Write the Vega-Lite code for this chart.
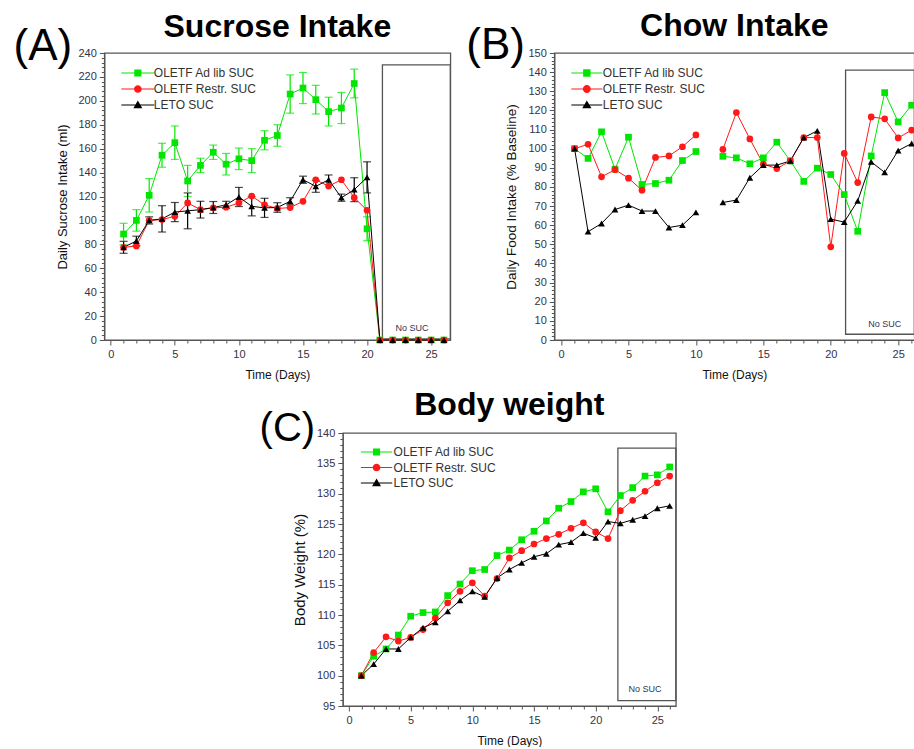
{
"$schema": "https://vega.github.io/schema/vega-lite/v6.json",
"padding": {"left": 12, "top": 9, "right": 0, "bottom": 0},
"config": {
 "view": {"stroke": "#555555", "strokeWidth": 1.3},
 "axis": {"labelFont": "Liberation Sans", "labelFontSize": 11, "labelColor": "#333344", "titleFont": "Liberation Sans", "titleFontWeight": "normal", "titleColor": "#111111", "domainColor": "#555555", "tickColor": "#555555", "grid": false, "labelPadding": 3, "labelFlush": false, "labelOverlap": false},
 "title": {"font": "Liberation Sans", "fontSize": 32, "fontWeight": "bold", "color": "#000000", "anchor": "middle"},
 "legend": {"labelFont": "Liberation Sans", "labelFontSize": 12, "labelColor": "#333333", "symbolOpacity": 1}
},
"datasets": {
 "sucrose": [
  {"day":1,"group":"OLETF Ad lib SUC","value":88.6,"err":9},{"day":2,"group":"OLETF Ad lib SUC","value":100,"err":9},{"day":3,"group":"OLETF Ad lib SUC","value":121,"err":14},{"day":4,"group":"OLETF Ad lib SUC","value":154.5,"err":10},{"day":5,"group":"OLETF Ad lib SUC","value":165,"err":14},{"day":6,"group":"OLETF Ad lib SUC","value":133,"err":13},{"day":7,"group":"OLETF Ad lib SUC","value":146,"err":6},{"day":8,"group":"OLETF Ad lib SUC","value":157,"err":6},{"day":9,"group":"OLETF Ad lib SUC","value":147,"err":9},{"day":10,"group":"OLETF Ad lib SUC","value":151.5,"err":9},{"day":11,"group":"OLETF Ad lib SUC","value":150,"err":10},{"day":12,"group":"OLETF Ad lib SUC","value":167,"err":8},{"day":13,"group":"OLETF Ad lib SUC","value":171,"err":9},{"day":14,"group":"OLETF Ad lib SUC","value":205.7,"err":16},{"day":15,"group":"OLETF Ad lib SUC","value":210.7,"err":13},{"day":16,"group":"OLETF Ad lib SUC","value":201,"err":12},{"day":17,"group":"OLETF Ad lib SUC","value":191,"err":12},{"day":18,"group":"OLETF Ad lib SUC","value":194,"err":13},{"day":19,"group":"OLETF Ad lib SUC","value":214.5,"err":12},{"day":20,"group":"OLETF Ad lib SUC","value":93,"err":10},{"day":21,"group":"OLETF Ad lib SUC","value":0,"err":0},{"day":22,"group":"OLETF Ad lib SUC","value":0,"err":0},{"day":23,"group":"OLETF Ad lib SUC","value":0,"err":0},{"day":24,"group":"OLETF Ad lib SUC","value":0,"err":0},{"day":25,"group":"OLETF Ad lib SUC","value":0,"err":0},{"day":26,"group":"OLETF Ad lib SUC","value":0,"err":0},
  {"day":1,"group":"OLETF Restr. SUC","value":77.5},{"day":2,"group":"OLETF Restr. SUC","value":78.6},{"day":3,"group":"OLETF Restr. SUC","value":100},{"day":4,"group":"OLETF Restr. SUC","value":100.7},{"day":5,"group":"OLETF Restr. SUC","value":103.5},{"day":6,"group":"OLETF Restr. SUC","value":114.6},{"day":7,"group":"OLETF Restr. SUC","value":109},{"day":8,"group":"OLETF Restr. SUC","value":110.5},{"day":9,"group":"OLETF Restr. SUC","value":111},{"day":10,"group":"OLETF Restr. SUC","value":114.6},{"day":11,"group":"OLETF Restr. SUC","value":120.4},{"day":12,"group":"OLETF Restr. SUC","value":113},{"day":13,"group":"OLETF Restr. SUC","value":110},{"day":14,"group":"OLETF Restr. SUC","value":110.7},{"day":15,"group":"OLETF Restr. SUC","value":116},{"day":16,"group":"OLETF Restr. SUC","value":134},{"day":17,"group":"OLETF Restr. SUC","value":128.7},{"day":18,"group":"OLETF Restr. SUC","value":134},{"day":19,"group":"OLETF Restr. SUC","value":119},{"day":20,"group":"OLETF Restr. SUC","value":108.5},{"day":21,"group":"OLETF Restr. SUC","value":0},{"day":22,"group":"OLETF Restr. SUC","value":0},{"day":23,"group":"OLETF Restr. SUC","value":0},{"day":24,"group":"OLETF Restr. SUC","value":0},{"day":25,"group":"OLETF Restr. SUC","value":0},{"day":26,"group":"OLETF Restr. SUC","value":0},
  {"day":1,"group":"LETO SUC","value":77.5,"err":5},{"day":2,"group":"LETO SUC","value":82.8,"err":4},{"day":3,"group":"LETO SUC","value":100,"err":3},{"day":4,"group":"LETO SUC","value":101.3,"err":11},{"day":5,"group":"LETO SUC","value":107,"err":8},{"day":6,"group":"LETO SUC","value":108,"err":15},{"day":7,"group":"LETO SUC","value":109,"err":7},{"day":8,"group":"LETO SUC","value":110.8,"err":5},{"day":9,"group":"LETO SUC","value":113,"err":3},{"day":10,"group":"LETO SUC","value":119.6,"err":8},{"day":11,"group":"LETO SUC","value":111.8,"err":8},{"day":12,"group":"LETO SUC","value":110.5,"err":8},{"day":13,"group":"LETO SUC","value":110.8,"err":4},{"day":14,"group":"LETO SUC","value":116,"err":3},{"day":15,"group":"LETO SUC","value":134,"err":3},{"day":16,"group":"LETO SUC","value":128.5,"err":5},{"day":17,"group":"LETO SUC","value":134,"err":4},{"day":18,"group":"LETO SUC","value":119,"err":3},{"day":19,"group":"LETO SUC","value":125.7,"err":10},{"day":20,"group":"LETO SUC","value":136,"err":13},{"day":21,"group":"LETO SUC","value":0,"err":0},{"day":22,"group":"LETO SUC","value":0,"err":0},{"day":23,"group":"LETO SUC","value":0,"err":0},{"day":24,"group":"LETO SUC","value":0,"err":0},{"day":25,"group":"LETO SUC","value":0,"err":0},{"day":26,"group":"LETO SUC","value":0,"err":0}
 ],
 "chow": [
  {"day":1,"seg":"a","group":"OLETF Ad lib SUC","value":100},{"day":2,"seg":"a","group":"OLETF Ad lib SUC","value":94.9},{"day":3,"seg":"a","group":"OLETF Ad lib SUC","value":108.8},{"day":4,"seg":"a","group":"OLETF Ad lib SUC","value":89.3},{"day":5,"seg":"a","group":"OLETF Ad lib SUC","value":106},{"day":6,"seg":"a","group":"OLETF Ad lib SUC","value":81.3},{"day":7,"seg":"a","group":"OLETF Ad lib SUC","value":81.8},{"day":8,"seg":"a","group":"OLETF Ad lib SUC","value":83.5},{"day":9,"seg":"a","group":"OLETF Ad lib SUC","value":93.8},{"day":10,"seg":"a","group":"OLETF Ad lib SUC","value":98.5},{"day":12,"seg":"b","group":"OLETF Ad lib SUC","value":96},{"day":13,"seg":"b","group":"OLETF Ad lib SUC","value":95.2},{"day":14,"seg":"b","group":"OLETF Ad lib SUC","value":92.1},{"day":15,"seg":"b","group":"OLETF Ad lib SUC","value":95.2},{"day":16,"seg":"b","group":"OLETF Ad lib SUC","value":103.4},{"day":17,"seg":"b","group":"OLETF Ad lib SUC","value":93.6},{"day":18,"seg":"b","group":"OLETF Ad lib SUC","value":82.9},{"day":19,"seg":"b","group":"OLETF Ad lib SUC","value":89.8},{"day":20,"seg":"b","group":"OLETF Ad lib SUC","value":86.5},{"day":21,"seg":"b","group":"OLETF Ad lib SUC","value":76},{"day":22,"seg":"b","group":"OLETF Ad lib SUC","value":56.8},{"day":23,"seg":"b","group":"OLETF Ad lib SUC","value":96.2},{"day":24,"seg":"b","group":"OLETF Ad lib SUC","value":129.3},{"day":25,"seg":"b","group":"OLETF Ad lib SUC","value":114},{"day":26,"seg":"b","group":"OLETF Ad lib SUC","value":122.7},
  {"day":1,"seg":"a","group":"OLETF Restr. SUC","value":100},{"day":2,"seg":"a","group":"OLETF Restr. SUC","value":102.3},{"day":3,"seg":"a","group":"OLETF Restr. SUC","value":85.3},{"day":4,"seg":"a","group":"OLETF Restr. SUC","value":89},{"day":5,"seg":"a","group":"OLETF Restr. SUC","value":84.6},{"day":6,"seg":"a","group":"OLETF Restr. SUC","value":78.3},{"day":7,"seg":"a","group":"OLETF Restr. SUC","value":95.4},{"day":8,"seg":"a","group":"OLETF Restr. SUC","value":96.2},{"day":9,"seg":"a","group":"OLETF Restr. SUC","value":101},{"day":10,"seg":"a","group":"OLETF Restr. SUC","value":107.2},{"day":12,"seg":"b","group":"OLETF Restr. SUC","value":99.6},{"day":13,"seg":"b","group":"OLETF Restr. SUC","value":118.9},{"day":14,"seg":"b","group":"OLETF Restr. SUC","value":105.1},{"day":15,"seg":"b","group":"OLETF Restr. SUC","value":91.9},{"day":16,"seg":"b","group":"OLETF Restr. SUC","value":89.6},{"day":17,"seg":"b","group":"OLETF Restr. SUC","value":93.6},{"day":18,"seg":"b","group":"OLETF Restr. SUC","value":105.8},{"day":19,"seg":"b","group":"OLETF Restr. SUC","value":105.8},{"day":20,"seg":"b","group":"OLETF Restr. SUC","value":48.7},{"day":21,"seg":"b","group":"OLETF Restr. SUC","value":97.5},{"day":22,"seg":"b","group":"OLETF Restr. SUC","value":82.3},{"day":23,"seg":"b","group":"OLETF Restr. SUC","value":116.6},{"day":24,"seg":"b","group":"OLETF Restr. SUC","value":115.6},{"day":25,"seg":"b","group":"OLETF Restr. SUC","value":105.6},{"day":26,"seg":"b","group":"OLETF Restr. SUC","value":109.7},
  {"day":1,"seg":"a","group":"LETO SUC","value":100},{"day":2,"seg":"a","group":"LETO SUC","value":56.6},{"day":3,"seg":"a","group":"LETO SUC","value":60.9},{"day":4,"seg":"a","group":"LETO SUC","value":68.2},{"day":5,"seg":"a","group":"LETO SUC","value":70.5},{"day":6,"seg":"a","group":"LETO SUC","value":67.4},{"day":7,"seg":"a","group":"LETO SUC","value":67.4},{"day":8,"seg":"a","group":"LETO SUC","value":58.8},{"day":9,"seg":"a","group":"LETO SUC","value":60},{"day":10,"seg":"a","group":"LETO SUC","value":66.7},{"day":12,"seg":"b","group":"LETO SUC","value":71.9},{"day":13,"seg":"b","group":"LETO SUC","value":73.1},{"day":14,"seg":"b","group":"LETO SUC","value":84.8},{"day":15,"seg":"b","group":"LETO SUC","value":91.4},{"day":16,"seg":"b","group":"LETO SUC","value":91.4},{"day":17,"seg":"b","group":"LETO SUC","value":93.6},{"day":18,"seg":"b","group":"LETO SUC","value":105.8},{"day":19,"seg":"b","group":"LETO SUC","value":109.3},{"day":20,"seg":"b","group":"LETO SUC","value":63.2},{"day":21,"seg":"b","group":"LETO SUC","value":61.6},{"day":22,"seg":"b","group":"LETO SUC","value":72.7},{"day":23,"seg":"b","group":"LETO SUC","value":93.1},{"day":24,"seg":"b","group":"LETO SUC","value":87.6},{"day":25,"seg":"b","group":"LETO SUC","value":99},{"day":26,"seg":"b","group":"LETO SUC","value":102.7}
 ],
 "bw": [
  {"day":1,"group":"OLETF Ad lib SUC","value":100},{"day":2,"group":"OLETF Ad lib SUC","value":103.2},{"day":3,"group":"OLETF Ad lib SUC","value":104.4},{"day":4,"group":"OLETF Ad lib SUC","value":106.7},{"day":5,"group":"OLETF Ad lib SUC","value":109.8},{"day":6,"group":"OLETF Ad lib SUC","value":110.4},{"day":7,"group":"OLETF Ad lib SUC","value":110.5},{"day":8,"group":"OLETF Ad lib SUC","value":113.2},{"day":9,"group":"OLETF Ad lib SUC","value":115.1},{"day":10,"group":"OLETF Ad lib SUC","value":117.3},{"day":11,"group":"OLETF Ad lib SUC","value":117.5},{"day":12,"group":"OLETF Ad lib SUC","value":119.8},{"day":13,"group":"OLETF Ad lib SUC","value":120.7},{"day":14,"group":"OLETF Ad lib SUC","value":122.4},{"day":15,"group":"OLETF Ad lib SUC","value":123.8},{"day":16,"group":"OLETF Ad lib SUC","value":125.5},{"day":17,"group":"OLETF Ad lib SUC","value":127.6},{"day":18,"group":"OLETF Ad lib SUC","value":128.7},{"day":19,"group":"OLETF Ad lib SUC","value":130.3},{"day":20,"group":"OLETF Ad lib SUC","value":130.8},{"day":21,"group":"OLETF Ad lib SUC","value":127},{"day":22,"group":"OLETF Ad lib SUC","value":129.7},{"day":23,"group":"OLETF Ad lib SUC","value":131},{"day":24,"group":"OLETF Ad lib SUC","value":132.9},{"day":25,"group":"OLETF Ad lib SUC","value":133.1},{"day":26,"group":"OLETF Ad lib SUC","value":134.4},
  {"day":1,"group":"OLETF Restr. SUC","value":100},{"day":2,"group":"OLETF Restr. SUC","value":103.8},{"day":3,"group":"OLETF Restr. SUC","value":106.4},{"day":4,"group":"OLETF Restr. SUC","value":105.7},{"day":5,"group":"OLETF Restr. SUC","value":106.3},{"day":6,"group":"OLETF Restr. SUC","value":107.6},{"day":7,"group":"OLETF Restr. SUC","value":109.5},{"day":8,"group":"OLETF Restr. SUC","value":112},{"day":9,"group":"OLETF Restr. SUC","value":113.9},{"day":10,"group":"OLETF Restr. SUC","value":115.3},{"day":11,"group":"OLETF Restr. SUC","value":113.1},{"day":12,"group":"OLETF Restr. SUC","value":116},{"day":13,"group":"OLETF Restr. SUC","value":119.4},{"day":14,"group":"OLETF Restr. SUC","value":120.6},{"day":15,"group":"OLETF Restr. SUC","value":121.7},{"day":16,"group":"OLETF Restr. SUC","value":122.6},{"day":17,"group":"OLETF Restr. SUC","value":123.3},{"day":18,"group":"OLETF Restr. SUC","value":124.3},{"day":19,"group":"OLETF Restr. SUC","value":125.2},{"day":20,"group":"OLETF Restr. SUC","value":123.7},{"day":21,"group":"OLETF Restr. SUC","value":122.6},{"day":22,"group":"OLETF Restr. SUC","value":127.2},{"day":23,"group":"OLETF Restr. SUC","value":128.9},{"day":24,"group":"OLETF Restr. SUC","value":130.4},{"day":25,"group":"OLETF Restr. SUC","value":131.8},{"day":26,"group":"OLETF Restr. SUC","value":132.9},
  {"day":1,"group":"LETO SUC","value":100},{"day":2,"group":"LETO SUC","value":101.9},{"day":3,"group":"LETO SUC","value":104.4},{"day":4,"group":"LETO SUC","value":104.4},{"day":5,"group":"LETO SUC","value":106.3},{"day":6,"group":"LETO SUC","value":107.9},{"day":7,"group":"LETO SUC","value":108.8},{"day":8,"group":"LETO SUC","value":110.6},{"day":9,"group":"LETO SUC","value":112.4},{"day":10,"group":"LETO SUC","value":113.9},{"day":11,"group":"LETO SUC","value":113},{"day":12,"group":"LETO SUC","value":116.1},{"day":13,"group":"LETO SUC","value":117.5},{"day":14,"group":"LETO SUC","value":118.6},{"day":15,"group":"LETO SUC","value":119.6},{"day":16,"group":"LETO SUC","value":120.1},{"day":17,"group":"LETO SUC","value":121.6},{"day":18,"group":"LETO SUC","value":122},{"day":19,"group":"LETO SUC","value":123.5},{"day":20,"group":"LETO SUC","value":122.7},{"day":21,"group":"LETO SUC","value":125.4},{"day":22,"group":"LETO SUC","value":125.1},{"day":23,"group":"LETO SUC","value":125.7},{"day":24,"group":"LETO SUC","value":126.3},{"day":25,"group":"LETO SUC","value":127.6},{"day":26,"group":"LETO SUC","value":128}
 ],
 "periods": [
  {"panel":"A","day":21.2,"dayEnd":26.5,"value":1,"valueTop":230},
  {"panel":"B","day":21.1,"dayEnd":26.2,"value":3,"valueTop":141},
  {"panel":"C","day":21.8,"dayEnd":26.5,"value":95.9,"valueTop":137.5}
 ],
 "notes": [
  {"panel":"A","kind":"small","day":23.5,"value":10,"text":"No SUC"},
  {"panel":"B","kind":"small","day":24,"value":8.4,"text":"No SUC"},
  {"panel":"C","kind":"small","day":24,"value":97.8,"text":"No SUC"},
  {"panel":"A","kind":"big","day":-5.3,"value":245,"text":"(A)"},
  {"panel":"B","kind":"big","day":-4.85,"value":153.4,"text":"(B)"},
  {"panel":"C","kind":"big","day":-5.0,"value":140.7,"text":"(C)"}
 ]
},
"spacing": 7,
"center": true,
"resolve": {"scale": {"color": "independent", "shape": "independent"}, "legend": {"color": "independent", "shape": "independent"}},
"vconcat": [
 {
  "hconcat": [
   {
    "width": 346, "height": 287,
    "title": {"text": "Sucrose Intake", "offset": 6, "dy": 25},
    "data": {"name": "sucrose"},
    "encoding": {
     "x": {"field": "day", "type": "quantitative", "scale": {"domain": [-0.5, 26.5], "nice": false, "zero": false},
       "axis": {"title": "Time (Days)", "titleFontSize": 12, "titlePadding": 10, "values": [0,1,2,3,4,5,6,7,8,9,10,11,12,13,14,15,16,17,18,19,20,21,22,23,24,25,26], "labelExpr": "datum.value % 5 === 0 ? datum.label : ''", "tickSize": {"condition": {"test": "datum.value % 5 === 0", "value": 5}, "value": 3}}},
     "y": {"field": "value", "type": "quantitative", "scale": {"domain": [0, 240], "nice": false, "zero": false},
       "axis": {"title": "Daily Sucrose Intake (ml)", "titleFontSize": 13, "titlePadding": 8, "values": [0,4,8,12,16,20,24,28,32,36,40,44,48,52,56,60,64,68,72,76,80,84,88,92,96,100,104,108,112,116,120,124,128,132,136,140,144,148,152,156,160,164,168,172,176,180,184,188,192,196,200,204,208,212,216,220,224,228,232,236,240], "labelExpr": "datum.value % 20 === 0 ? datum.label : ''", "tickSize": {"condition": {"test": "datum.value % 20 === 0", "value": 5}, "value": 3}}}
    },
    "layer": [
     {"data": {"name": "periods"}, "transform": [{"filter": "datum.panel === 'A'"}], "mark": {"type": "rect", "fill": "transparent", "stroke": "#555555", "strokeWidth": 1.3}, "encoding": {"x2": {"field": "dayEnd"}, "y2": {"field": "valueTop"}}},
     {"data": {"name": "notes"}, "transform": [{"filter": "datum.panel === 'A' && datum.kind === 'small'"}], "mark": {"type": "text", "font": "Liberation Sans", "fontSize": 9, "color": "#333355", "baseline": "middle"}, "encoding": {"text": {"field": "text"}}},
     {"data": {"name": "notes"}, "transform": [{"filter": "datum.panel === 'A' && datum.kind === 'big'"}], "mark": {"type": "text", "font": "Liberation Sans", "fontSize": 44, "color": "#000000", "baseline": "middle"}, "encoding": {"text": {"field": "text"}}},
     {"transform": [{"filter": "datum.err > 0"}], "mark": {"type": "errorbar", "ticks": {"size": 8}, "thickness": 1.2}, "encoding": {"yError": {"field": "err"}, "color": {"field": "group", "type": "nominal", "scale": {"domain": ["OLETF Ad lib SUC", "OLETF Restr. SUC", "LETO SUC"], "range": ["#00e600", "#ff1a1a", "#000000"]}}}},
     {"mark": {"type": "line", "strokeWidth": 1}, "encoding": {"color": {"field": "group", "type": "nominal", "scale": {"domain": ["OLETF Ad lib SUC", "OLETF Restr. SUC", "LETO SUC"], "range": ["#00e600", "#ff1a1a", "#000000"]}}}},
     {"mark": {"type": "point", "filled": true, "size": 45, "opacity": 1},
      "encoding": {
       "color": {"field": "group", "type": "nominal", "scale": {"domain": ["OLETF Ad lib SUC", "OLETF Restr. SUC", "LETO SUC"], "range": ["#00e600", "#ff1a1a", "#000000"]},
         "legend": {"title": null, "orient": "none", "legendX": 17, "legendY": 13, "symbolSize": 196, "symbolOffset": 9.5, "labelOffset": 9, "rowPadding": 3, "symbolStrokeWidth": 0, "symbolOpacity": 1,
           "encode": {"symbols": {"update": {
             "shape": {"signal": "datum.value === 'OLETF Ad lib SUC' ? 'M-2.357,-0.07H2.357V0.07H-2.357Z M-0.51,-0.51H0.51V0.51H-0.51Z' : datum.value === 'OLETF Restr. SUC' ? 'M-2.357,-0.07H2.357V0.07H-2.357Z M-0.55,0A0.55,0.55,0,1,1,0.55,0A0.55,0.55,0,1,1,-0.55,0Z' : 'M-2.357,-0.07H2.357V0.07H-2.357Z M0,-0.64L0.64,0.46L-0.64,0.46Z'"},
             "opacity": {"value": 1}}}}}},
       "shape": {"condition": [{"test": "datum.group === 'OLETF Ad lib SUC'", "value": "square"}, {"test": "datum.group === 'OLETF Restr. SUC'", "value": "circle"}], "value": "triangle-up"}
      }}
    ]
   },
   {
    "width": 360, "height": 287,
    "title": {"text": "Chow Intake", "offset": 6, "dy": 25},
    "data": {"name": "chow"},
    "encoding": {
     "x": {"field": "day", "type": "quantitative", "scale": {"domain": [-0.5, 26.2], "nice": false, "zero": false},
       "axis": {"title": "Time (Days)", "titleFontSize": 12, "titlePadding": 10, "values": [0,1,2,3,4,5,6,7,8,9,10,11,12,13,14,15,16,17,18,19,20,21,22,23,24,25,26], "labelExpr": "datum.value % 5 === 0 ? datum.label : ''", "tickSize": {"condition": {"test": "datum.value % 5 === 0", "value": 5}, "value": 3}}},
     "y": {"field": "value", "type": "quantitative", "scale": {"domain": [0, 150], "nice": false, "zero": false},
       "axis": {"title": "Daily Food Intake (% Baseline)", "titleFontSize": 13.5, "titlePadding": 9, "values": [0,2,4,6,8,10,12,14,16,18,20,22,24,26,28,30,32,34,36,38,40,42,44,46,48,50,52,54,56,58,60,62,64,66,68,70,72,74,76,78,80,82,84,86,88,90,92,94,96,98,100,102,104,106,108,110,112,114,116,118,120,122,124,126,128,130,132,134,136,138,140,142,144,146,148,150], "labelExpr": "datum.value % 10 === 0 ? datum.label : ''", "tickSize": {"condition": {"test": "datum.value % 10 === 0", "value": 5}, "value": 3}}}
    },
    "layer": [
     {"data": {"name": "periods"}, "transform": [{"filter": "datum.panel === 'B'"}], "mark": {"type": "rect", "fill": "transparent", "stroke": "#555555", "strokeWidth": 1.3}, "encoding": {"x2": {"field": "dayEnd"}, "y2": {"field": "valueTop"}}},
     {"data": {"name": "notes"}, "transform": [{"filter": "datum.panel === 'B' && datum.kind === 'small'"}], "mark": {"type": "text", "font": "Liberation Sans", "fontSize": 9, "color": "#333355", "baseline": "middle"}, "encoding": {"text": {"field": "text"}}},
     {"data": {"name": "notes"}, "transform": [{"filter": "datum.panel === 'B' && datum.kind === 'big'"}], "mark": {"type": "text", "font": "Liberation Sans", "fontSize": 44, "color": "#000000", "baseline": "middle"}, "encoding": {"text": {"field": "text"}}},
     {"mark": {"type": "line", "strokeWidth": 1}, "encoding": {"detail": {"field": "seg"}, "color": {"field": "group", "type": "nominal", "scale": {"domain": ["OLETF Ad lib SUC", "OLETF Restr. SUC", "LETO SUC"], "range": ["#00e600", "#ff1a1a", "#000000"]}}}},
     {"mark": {"type": "point", "filled": true, "size": 45, "opacity": 1},
      "encoding": {
       "color": {"field": "group", "type": "nominal", "scale": {"domain": ["OLETF Ad lib SUC", "OLETF Restr. SUC", "LETO SUC"], "range": ["#00e600", "#ff1a1a", "#000000"]},
         "legend": {"title": null, "orient": "none", "legendX": 17, "legendY": 13, "symbolSize": 196, "symbolOffset": 8.5, "labelOffset": 9, "rowPadding": 3, "symbolStrokeWidth": 0, "symbolOpacity": 1,
           "encode": {"symbols": {"update": {
             "shape": {"signal": "datum.value === 'OLETF Ad lib SUC' ? 'M-2.214,-0.07H2.214V0.07H-2.214Z M-0.53,-0.53H0.53V0.53H-0.53Z' : datum.value === 'OLETF Restr. SUC' ? 'M-2.214,-0.07H2.214V0.07H-2.214Z M-0.57,0A0.57,0.57,0,1,1,0.57,0A0.57,0.57,0,1,1,-0.57,0Z' : 'M-2.214,-0.07H2.214V0.07H-2.214Z M0,-0.66L0.66,0.48L-0.66,0.48Z'"},
             "opacity": {"value": 1}}}}}},
       "shape": {"condition": [{"test": "datum.group === 'OLETF Ad lib SUC'", "value": "square"}, {"test": "datum.group === 'OLETF Restr. SUC'", "value": "circle"}], "value": "triangle-up"}
      }}
    ]
   }
  ],
  "spacing": 104,
  "bounds": "flush",
  "resolve": {"scale": {"color": "independent", "shape": "independent"}, "legend": {"color": "independent", "shape": "independent"}}
 },
 {
  "width": 333, "height": 273,
  "title": {"text": "Body weight", "offset": 6, "dy": 19},
  "data": {"name": "bw"},
  "encoding": {
   "x": {"field": "day", "type": "quantitative", "scale": {"domain": [-0.5, 26.5], "nice": false, "zero": false},
     "axis": {"title": "Time (Days)", "titleFontSize": 12, "titlePadding": 10, "values": [0,1,2,3,4,5,6,7,8,9,10,11,12,13,14,15,16,17,18,19,20,21,22,23,24,25,26], "labelExpr": "datum.value % 5 === 0 ? datum.label : ''", "tickSize": {"condition": {"test": "datum.value % 5 === 0", "value": 5}, "value": 3}}},
   "y": {"field": "value", "type": "quantitative", "scale": {"domain": [95, 140], "nice": false, "zero": false},
     "axis": {"title": "Body Weight (%)", "titleFontSize": 15, "titlePadding": 9, "values": [95,96,97,98,99,100,101,102,103,104,105,106,107,108,109,110,111,112,113,114,115,116,117,118,119,120,121,122,123,124,125,126,127,128,129,130,131,132,133,134,135,136,137,138,139,140], "labelExpr": "datum.value % 5 === 0 ? datum.label : ''", "tickSize": {"condition": {"test": "datum.value % 5 === 0", "value": 5}, "value": 3}}}
  },
  "layer": [
   {"data": {"name": "periods"}, "transform": [{"filter": "datum.panel === 'C'"}], "mark": {"type": "rect", "fill": "transparent", "stroke": "#555555", "strokeWidth": 1.3}, "encoding": {"x2": {"field": "dayEnd"}, "y2": {"field": "valueTop"}}},
   {"data": {"name": "notes"}, "transform": [{"filter": "datum.panel === 'C' && datum.kind === 'small'"}], "mark": {"type": "text", "font": "Liberation Sans", "fontSize": 9, "color": "#333355", "baseline": "middle"}, "encoding": {"text": {"field": "text"}}},
   {"data": {"name": "notes"}, "transform": [{"filter": "datum.panel === 'C' && datum.kind === 'big'"}], "mark": {"type": "text", "font": "Liberation Sans", "fontSize": 40, "color": "#000000", "baseline": "middle"}, "encoding": {"text": {"field": "text"}}},
   {"mark": {"type": "line", "strokeWidth": 1}, "encoding": {"color": {"field": "group", "type": "nominal", "scale": {"domain": ["OLETF Ad lib SUC", "OLETF Restr. SUC", "LETO SUC"], "range": ["#00e600", "#ff1a1a", "#000000"]}}}},
   {"mark": {"type": "point", "filled": true, "size": 45, "opacity": 1},
    "encoding": {
     "color": {"field": "group", "type": "nominal", "scale": {"domain": ["OLETF Ad lib SUC", "OLETF Restr. SUC", "LETO SUC"], "range": ["#00e600", "#ff1a1a", "#000000"]},
       "legend": {"title": null, "orient": "none", "legendX": 18, "legendY": 12, "symbolSize": 196, "symbolOffset": 8.7, "labelOffset": 10, "rowPadding": 2.5, "symbolStrokeWidth": 0, "symbolOpacity": 1,
         "encode": {"symbols": {"update": {
           "shape": {"signal": "datum.value === 'OLETF Ad lib SUC' ? 'M-2.24,-0.07H2.24V0.07H-2.24Z M-0.51,-0.51H0.51V0.51H-0.51Z' : datum.value === 'OLETF Restr. SUC' ? 'M-2.24,-0.07H2.24V0.07H-2.24Z M-0.55,0A0.55,0.55,0,1,1,0.55,0A0.55,0.55,0,1,1,-0.55,0Z' : 'M-2.24,-0.07H2.24V0.07H-2.24Z M0,-0.64L0.64,0.46L-0.64,0.46Z'"},
           "opacity": {"value": 1}}}}}},
     "shape": {"condition": [{"test": "datum.group === 'OLETF Ad lib SUC'", "value": "square"}, {"test": "datum.group === 'OLETF Restr. SUC'", "value": "circle"}], "value": "triangle-up"}
    }}
  ]
 }
]
}
